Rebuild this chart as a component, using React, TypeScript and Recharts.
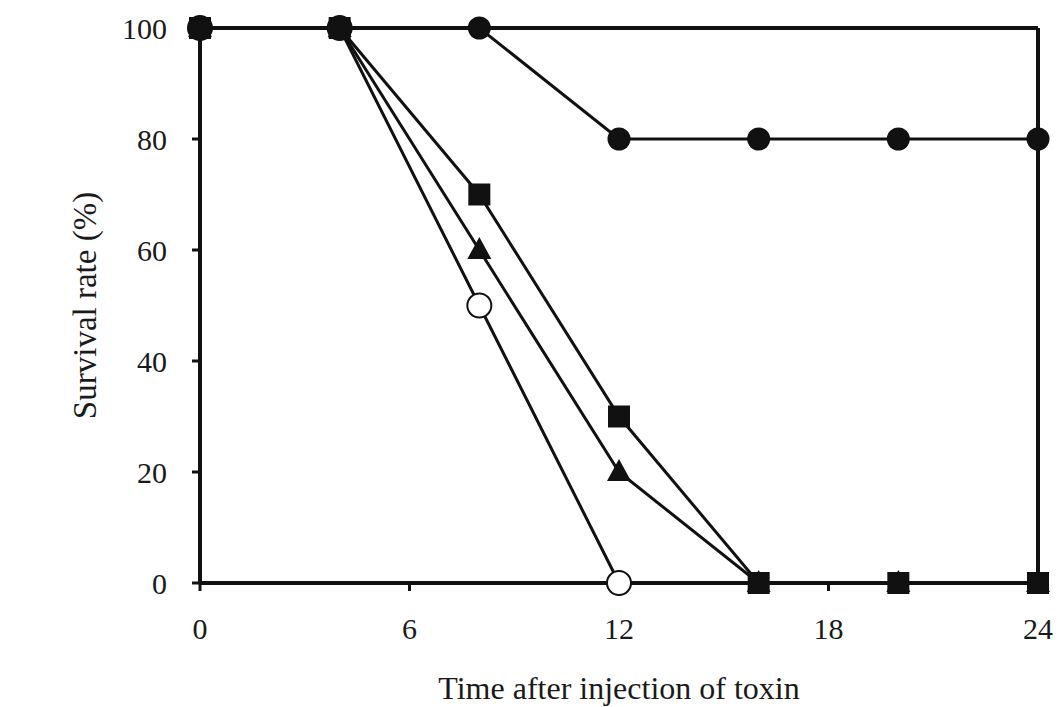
import React from 'react';
import { LineChart, Line, XAxis, YAxis, ReferenceLine } from 'recharts';

// hours after toxin injection
const hours = [0, 4, 8, 12, 16, 20, 24];
// survival (%) per group
const circleGroup = [100, 100, 100, 80, 80, 80, 80];
const squareGroup = [100, 100, 70, 30, 0, 0, 0];
const triangleGroup = [100, 100, 60, 20, 0, 0, 0];
const openGroup = [100, 100, 50, 0, null, null, null];

const xTicks = [0, 6, 12, 18, 24];
const yTicks = [0, 20, 40, 60, 80, 100];

const data = hours.map((h, i) => ({
  h,
  circle: circleGroup[i],
  square: squareGroup[i],
  triangle: triangleGroup[i],
  open: openGroup[i],
}));

const INK = '#111';
const FONT = '"Liberation Serif", "Times New Roman", serif';

const skip = (p: any) => p.cx == null || p.cy == null || p.value == null;

const FilledCircle = (p: any) =>
  skip(p) ? <g key={`c-${p.index}`} /> : <circle key={`c-${p.index}`} cx={p.cx} cy={p.cy} r={11.5} fill={INK} />;

const FilledSquare = (p: any) =>
  skip(p) ? <g key={`s-${p.index}`} /> : <rect key={`s-${p.index}`} x={p.cx - 11} y={p.cy - 11} width={22} height={22} fill={INK} />;

const FilledTriangle = (p: any) =>
  skip(p) ? (
    <g key={`t-${p.index}`} />
  ) : (
    <polygon
      key={`t-${p.index}`}
      points={`${p.cx},${p.cy - 13} ${p.cx - 12},${p.cy + 9} ${p.cx + 12},${p.cy + 9}`}
      fill={INK}
    />
  );

const OpenCircle = (p: any) =>
  skip(p) ? (
    <g key={`o-${p.index}`} />
  ) : (
    <circle key={`o-${p.index}`} cx={p.cx} cy={p.cy} r={12} fill="#fff" stroke={INK} strokeWidth={2} />
  );

const tickStyle = { fontFamily: FONT, fontSize: 30, fill: '#1a1a1a' };

export default function App() {
  return (
    <div style={{ position: 'absolute', left: 0, top: 0, background: '#fff' }}>
      <LineChart width={1060} height={707} data={data} margin={{ top: 28, right: 22, bottom: 0, left: 0 }}>
        <XAxis
          dataKey="h"
          type="number"
          domain={[0, 24]}
          ticks={xTicks}
          tick={tickStyle}
          tickSize={8}
          tickMargin={27}
          height={124}
          axisLine={{ stroke: INK, strokeWidth: 4 }}
          tickLine={{ stroke: INK, strokeWidth: 3 }}
          label={{
            value: 'Time after injection of toxin',
            position: 'insideBottom',
            offset: 8,
            style: { fontFamily: FONT, fontSize: 32, fill: '#1a1a1a' },
          }}
        />
        <YAxis
          type="number"
          domain={[0, 100]}
          ticks={yTicks}
          tick={tickStyle}
          tickSize={8}
          tickMargin={25}
          width={200}
          axisLine={{ stroke: INK, strokeWidth: 4 }}
          tickLine={{ stroke: INK, strokeWidth: 3 }}
          label={{
            value: 'Survival rate (%)',
            angle: -90,
            position: 'insideLeft',
            offset: 84,
            style: { fontFamily: FONT, fontSize: 33, fill: '#1a1a1a', textAnchor: 'middle' },
          }}
        />
        <ReferenceLine y={100} stroke={INK} strokeWidth={4} />
        <ReferenceLine x={24} stroke={INK} strokeWidth={4} />
        <Line dataKey="open" stroke={INK} strokeWidth={3} dot={OpenCircle} isAnimationActive={false} connectNulls={false} />
        <Line dataKey="square" stroke={INK} strokeWidth={3} dot={FilledSquare} isAnimationActive={false} />
        <Line dataKey="triangle" stroke={INK} strokeWidth={3} dot={FilledTriangle} isAnimationActive={false} />
        <Line dataKey="circle" stroke={INK} strokeWidth={3} dot={FilledCircle} isAnimationActive={false} />
      </LineChart>
    </div>
  );
}
